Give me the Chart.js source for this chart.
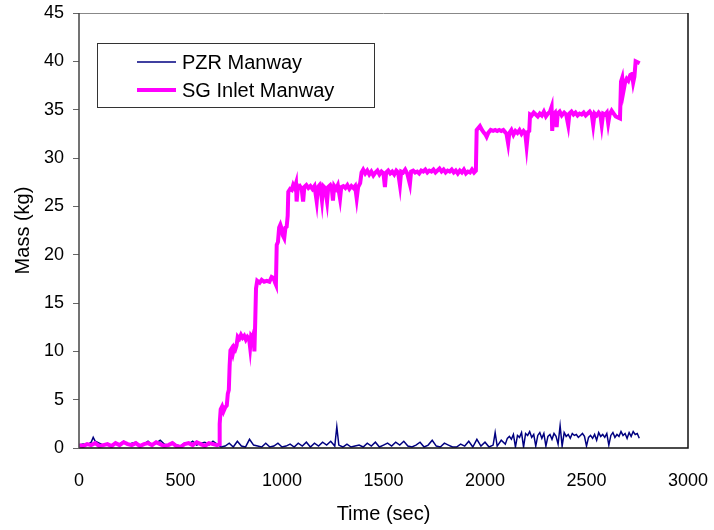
<!DOCTYPE html>
<html>
<head>
<meta charset="utf-8">
<script src="https://cdn.jsdelivr.net/npm/chart.js@4.4.0/dist/chart.umd.min.js"></script>
<style>
  html, body { margin: 0; padding: 0; background: #fff; }
  #wrap { width: 714px; height: 530px; }
</style>
</head>
<body>
<div id="wrap"><canvas id="grafico" width="714" height="530"></canvas></div>
<script>
// series names
const seriesNames = ['PZR Manway', 'SG Inlet Manway'];

// PZR Manway: time (s) and mass (kg)
const pzrTime = [
  0, 20, 40, 60, 70, 80, 100, 120, 140, 160,
  180, 200, 220, 240, 260, 280, 300, 320, 340, 360,
  380, 400, 420, 440, 460, 480, 500, 520, 540, 560,
  580, 600, 620, 640, 660, 680, 700, 720, 740, 760,
  780, 800, 820, 840, 860, 880, 900, 920, 940, 960,
  980, 1000, 1020, 1040, 1060, 1080, 1100, 1120, 1140, 1160,
  1180, 1200, 1220, 1240, 1260, 1270, 1280, 1300, 1320, 1340,
  1360, 1380, 1400, 1420, 1440, 1460, 1480, 1500, 1520, 1540,
  1560, 1580, 1600, 1620, 1640, 1660, 1680, 1700, 1720, 1740,
  1760, 1780, 1800, 1820, 1840, 1860, 1880, 1900, 1920, 1940,
  1960, 1980, 2000, 2020, 2040, 2050, 2060, 2080, 2100, 2110,
  2120, 2130, 2140, 2150, 2160, 2170, 2180, 2190, 2200, 2210,
  2220, 2230, 2240, 2250, 2260, 2270, 2280, 2290, 2300, 2310,
  2320, 2330, 2340, 2350, 2360, 2370, 2380, 2390, 2400, 2410,
  2420, 2430, 2440, 2450, 2460, 2470, 2480, 2490, 2500, 2510,
  2520, 2530, 2540, 2550, 2560, 2570, 2580, 2590, 2600, 2610,
  2620, 2630, 2640, 2650, 2660, 2670, 2680, 2690, 2700, 2710,
  2720, 2730, 2740, 2750, 2760
];
const pzrMass = [
  0.3, 0.4, 0.3, 0.6, 1.1, 0.7, 0.5, 0.3, 0.4, 0.3,
  0.5, 0.4, 0.7, 0.3, 0.5, 0.6, 0.3, 0.4, 0.7, 0.3,
  0.5, 0.8, 0.4, 0.3, 0.6, 0.3, 0.2, 0.5, 0.4, 0.7,
  0.3, 0.5, 0.6, 0.3, 0.7, 0.4, 0.1, 0.2, 0.5, 0.1,
  0.7, 0.2, 0.1, 0.9, 0.3, 0.2, 0.1, 0.5, 0.1, 0.2,
  0.5, 0.1, 0.2, 0.4, 0.1, 0.5, 0.2, 0.6, 0.1, 0.5,
  0.2, 0.6, 0.3, 0.7, 0.2, 2.2, 0.3, 0.1, 0.4, 0.1,
  0.2, 0.3, 0.1, 0.5, 0.2, 0.6, 0.1, 0.3, 0.5, 0.2,
  0.6, 0.3, 0.7, 0.2, 0.1, 0.3, 0.6, 0.1, 0.3, 0.8,
  0.2, 0.1, 0.5, 0.3, 0.1, 0.1, 0.4, 0.2, 0.7, 0.1,
  0.9, 0.2, 0.6, 0.1, 0.3, 1.6, 0.2, 0.8, 0.4, 1.0,
  1.2, 0.9, 1.4, 0.1, 1.3, 1.1, 1.6, 0.1, 1.5, 1.3,
  1.7, 1.1, 1.4, 0.2, 1.3, 1.6, 1.0, 1.5, 0.2, 1.2,
  1.4, 0.9, 1.5, 1.2, 0.4, 2.3, 0.2, 1.6, 1.2, 1.4,
  1.0, 1.5, 1.3, 1.4, 1.1, 1.3, 1.5, 1.2, 0.2, 1.1,
  1.3, 1.0, 1.4, 0.8, 1.6, 1.2, 1.4, 1.1, 1.5, 0.3,
  1.3, 1.6, 1.1, 1.4, 1.2, 1.7, 1.3, 1.5, 1.0, 1.6,
  1.2, 1.7, 1.4, 1.5, 1.0
];

// SG Inlet Manway: time (s) and mass (kg)
const sgTime = [
  0, 20, 40, 60, 80, 100, 120, 140, 160, 180,
  200, 220, 240, 260, 280, 300, 320, 340, 360, 380,
  400, 420, 440, 460, 480, 500, 520, 540, 560, 580,
  600, 620, 640, 660, 680, 690, 693, 698, 705, 712,
  720, 728, 733, 738, 742, 746, 752, 758, 764, 770,
  776, 782, 790, 798, 806, 814, 822, 830, 838, 843,
  848, 855, 860, 864, 868, 872, 878, 890, 900, 912,
  925, 938, 949, 958, 966, 970, 974, 980, 986, 992,
  998, 1004, 1011, 1017, 1023, 1028, 1031, 1040, 1048, 1055,
  1062, 1069, 1072, 1078, 1088, 1097, 1104, 1110, 1120, 1130,
  1140, 1150, 1160, 1171, 1177, 1185, 1190, 1197, 1203, 1212,
  1222, 1228, 1238, 1245, 1251, 1257, 1266, 1275, 1286, 1292,
  1302, 1312, 1322, 1332, 1342, 1352, 1360, 1368, 1375, 1385,
  1392, 1400, 1410, 1420, 1430, 1440, 1450, 1460, 1470, 1480,
  1490, 1500, 1507, 1513, 1523, 1533, 1543, 1553, 1563, 1572,
  1581, 1587, 1597, 1607, 1617, 1630, 1636, 1646, 1656, 1666,
  1676, 1686, 1696, 1706, 1716, 1726, 1736, 1746, 1756, 1766,
  1776, 1786, 1796, 1806, 1816, 1826, 1836, 1846, 1856, 1866,
  1876, 1886, 1896, 1906, 1916, 1926, 1936, 1946, 1955, 1959,
  1967, 1975, 1985, 1995, 2003, 2008, 2016, 2028, 2040, 2050,
  2060, 2070, 2080, 2090, 2098, 2106, 2114, 2120, 2130, 2140,
  2150, 2160, 2170, 2180, 2190, 2198, 2205, 2212, 2218, 2222,
  2230, 2240, 2250, 2260, 2270, 2280, 2290, 2300, 2310, 2320,
  2328, 2331, 2336, 2345, 2353, 2358, 2368, 2378, 2390, 2400,
  2410, 2416, 2426, 2436, 2446, 2456, 2466, 2476, 2486, 2496,
  2506, 2516, 2526, 2533, 2540, 2550, 2560, 2568, 2575, 2582,
  2592, 2600, 2607, 2614, 2624, 2634, 2644, 2654, 2665, 2670,
  2676, 2682, 2690, 2698, 2706, 2716, 2724, 2730, 2736, 2742,
  2752, 2762
];
const sgMass = [
  0.3, 0.2, 0.4, 0.3, 0.5, 0.2, 0.3, 0.4, 0.2, 0.5,
  0.3, 0.6, 0.4, 0.3, 0.5, 0.2, 0.4, 0.5, 0.3, 0.6,
  0.4, 0.2, 0.3, 0.5, 0.2, 0.1, 0.4, 0.5, 0.3, 0.6,
  0.4, 0.2, 0.5, 0.4, 0.3, 0.4, 2.5, 4.0, 4.3, 3.8,
  4.2, 4.4, 5.6, 6.0, 8.5, 10.1, 10.3, 9.8, 10.4, 10.2,
  10.6, 11.5, 11.3, 11.7, 11.4, 11.6, 11.2, 11.5, 11.3, 10.4,
  11.6, 11.4, 11.8, 10.0, 13.0, 16.5, 17.3, 17.1, 17.4, 17.2,
  17.3, 17.2, 17.7, 17.6, 17.1, 16.9, 21.0, 21.3, 22.8, 23.1,
  22.7, 22.0, 21.7, 22.8, 22.9, 24.0, 26.5, 26.8, 26.7, 27.2,
  26.9, 27.4, 25.5, 26.9, 27.1, 26.8, 25.5, 27.0, 27.2, 26.9,
  27.1, 26.8, 27.1, 25.5, 27.0, 27.2, 26.8, 25.6, 27.1, 26.9,
  25.5, 27.0, 27.2, 26.9, 25.6, 27.1, 26.8, 27.2, 25.8, 27.0,
  27.1, 26.9, 27.2, 26.8, 27.1, 26.9, 27.1, 25.8, 27.0, 27.4,
  28.5, 28.8, 28.4, 28.7, 28.3, 28.6, 28.2, 28.5, 28.7, 28.3,
  28.6, 28.4, 27.0, 28.5, 28.7, 28.4, 28.6, 28.3, 28.7, 28.5,
  27.2, 28.6, 28.5, 28.8, 28.4, 27.3, 28.6, 28.7, 28.5, 28.6,
  28.4, 28.7, 28.6, 28.8, 28.5, 28.7, 28.6, 28.8, 28.5, 28.7,
  28.9, 28.6, 28.8, 28.5, 28.7, 28.6, 28.8, 28.5, 28.7, 28.4,
  28.7, 28.5, 28.8, 28.4, 28.6, 28.5, 28.8, 28.5, 28.7, 32.9,
  33.1, 33.3, 32.9, 32.6, 32.4, 32.2, 32.6, 32.9, 32.8, 32.9,
  32.8, 32.9, 32.8, 32.9, 32.7, 32.5, 31.5, 32.6, 32.9, 32.4,
  32.8, 32.6, 32.9, 32.5, 32.8, 32.6, 31.2, 32.7, 32.8, 34.5,
  34.4, 34.7, 34.5, 34.3, 34.6, 34.4, 34.8, 34.3, 34.6, 34.8,
  35.3, 32.8, 34.5, 34.7, 33.2, 34.6, 34.8, 34.4, 34.7, 34.5,
  33.4, 34.6, 34.8, 34.5, 34.7, 34.4, 34.6, 34.5, 34.7, 34.4,
  34.6, 34.8, 34.5, 33.4, 34.6, 34.4, 34.7, 34.5, 33.4, 34.6,
  34.5, 34.7, 33.6, 34.5, 34.9, 34.6, 34.3, 34.2, 34.1, 37.9,
  38.3, 36.9, 37.8, 38.2, 38.0, 38.6, 38.7, 37.8, 38.4, 40.0,
  39.9, 39.8
];

// axis ranges and ticks
const xTicks = [0, 500, 1000, 1500, 2000, 2500, 3000];
const yTicks = [0, 5, 10, 15, 20, 25, 30, 35, 40, 45];

const fuente = '"Liberation Sans", Arial, sans-serif';

function puntos(xs, ys) {
  return xs.map((x, i) => ({ x: x, y: ys[i] }));
}

// frame around the plot and legend box inside it
const marco = {
  id: 'marco',
  afterDraw(chart) {
    const c = chart.ctx;
    const a = chart.chartArea;
    c.save();
    c.lineWidth = 1;
    c.strokeStyle = '#888';
    c.beginPath();
    c.moveTo(a.left, a.top + 0.5);
    c.lineTo(a.right, a.top + 0.5);
    c.stroke();
    c.strokeStyle = '#111';
    c.lineWidth = 1.5;
    c.beginPath();
    c.moveTo(a.right, a.top);
    c.lineTo(a.right, a.bottom);
    c.lineTo(a.left, a.bottom);
    c.stroke();
    c.strokeStyle = '#444';
    c.beginPath();
    c.moveTo(a.left, a.bottom);
    c.lineTo(a.left, a.top);
    c.stroke();

    // legend
    const bx = a.left + 18, by = a.top + 30, bw = 277, bh = 64;
    c.lineWidth = 1;
    c.strokeStyle = '#333';
    c.strokeRect(bx + 0.5, by + 0.5, bw, bh);
    c.font = '20px ' + fuente;
    c.textBaseline = 'middle';
    c.fillStyle = '#000';
    chart.data.datasets.forEach((ds, i) => {
      const ly = by + 19 + i * 28;
      c.strokeStyle = ds.borderColor;
      c.lineWidth = ds.borderWidth;
      c.beginPath();
      c.moveTo(bx + 40, ly);
      c.lineTo(bx + 79, ly);
      c.stroke();
      c.fillText(ds.label, bx + 85, ly + 1);
    });
    c.restore();
  }
};

const ctx = document.getElementById('grafico').getContext('2d');
const grafico = new Chart(ctx, {
  type: 'line',
  data: {
    datasets: [{
      label: seriesNames[0],
      data: puntos(pzrTime, pzrMass),
      borderColor: '#000080',
      borderWidth: 1.5,
      pointRadius: 0,
      tension: 0,
      order: 1
    }, {
      label: seriesNames[1],
      data: puntos(sgTime, sgMass),
      borderColor: '#FF00FF',
      borderWidth: 4,
      pointRadius: 0,
      tension: 0,
      order: 0
    }]
  },
  options: {
    responsive: false,
    animation: false,
    layout: { padding: { top: 13, right: 26, left: 0, bottom: 0 } },
    plugins: {
      legend: { display: false },
      tooltip: { enabled: false }
    },
    scales: {
      x: {
        type: 'linear',
        min: 0,
        max: 3000,
        afterFit(s) { s.height = 82; s.paddingLeft = 0; s.paddingRight = 0; },
        afterBuildTicks(s) { s.ticks = xTicks.map(v => ({ value: v })); },
        grid: { display: false, drawTicks: false },
        border: { display: false },
        ticks: { color: '#000', font: { family: fuente, size: 18 }, padding: 22, maxRotation: 0, callback: v => String(v) },
        title: { display: true, text: 'Time (sec)', color: '#000', font: { family: fuente, size: 20 }, padding: { top: 0, bottom: 4 } }
      },
      y: {
        min: 0,
        max: 45,
        afterFit(s) { s.width = 79; s.paddingTop = 0; s.paddingBottom = 0; },
        afterBuildTicks(s) { s.ticks = yTicks.map(v => ({ value: v })); },
        grid: { drawOnChartArea: false, drawTicks: true, tickLength: 6, color: '#666' },
        border: { display: false },
        ticks: { color: '#000', font: { family: fuente, size: 18 }, padding: 9, callback: v => String(v) },
        title: { display: true, text: 'Mass (kg)', color: '#000', font: { family: fuente, size: 20 }, padding: { top: 11, bottom: 0 } }
      }
    }
  },
  plugins: [marco]
});
</script>
</body>
</html>
